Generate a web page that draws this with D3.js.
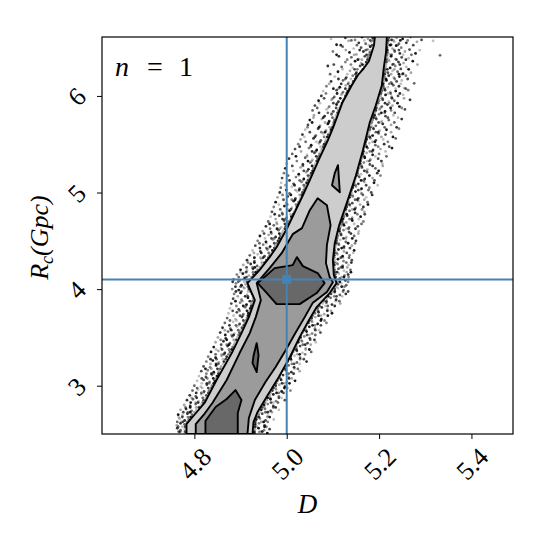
<!DOCTYPE html>
<html>
<head>
<meta charset="utf-8">
<title>D vs R_c corner panel</title>
<style>
  body { margin: 0; background: #fff; }
</style>
</head>
<body>
<svg width="550" height="550"></svg>
<script src="https://cdn.jsdelivr.net/npm/d3@7"></script>
<script>
// axis ranges and ticks
var xDomain = [4.6, 5.49];
var yDomain = [2.5, 6.61];
var xTicks = [4.8, 5.0, 5.2, 5.4];
var yTicks = [3, 4, 5, 6];
var truthD = 5.0, truthR = 4.10;

// contour levels, [D, R] vertices
var outerLevel = [[4.783,2.50],[4.783,2.603],[4.796,2.676],[4.822,2.821],[4.848,3.059],[4.881,3.338],[4.902,3.545],[4.918,3.710],[4.931,3.886],[4.915,4.062],[4.941,4.197],[4.963,4.331],[4.978,4.434],[5.002,4.641],[5.035,4.972],[5.050,5.128],[5.072,5.366],[5.089,5.541],[5.100,5.666],[5.121,5.935],[5.141,6.110],[5.154,6.214],[5.167,6.286],[5.178,6.359],[5.189,6.524],[5.191,6.62],
  [5.217,6.62],[5.215,6.452],[5.210,6.286],[5.206,6.110],[5.193,5.903],[5.180,5.728],[5.165,5.438],[5.150,5.179],[5.130,4.890],[5.113,4.652],[5.104,4.476],[5.100,4.300],[5.102,4.145],[5.108,4.062],[5.093,3.959],[5.065,3.814],[5.048,3.679],[5.028,3.503],[5.007,3.297],[4.983,3.090],[4.959,2.903],[4.937,2.728],[4.928,2.624],[4.926,2.50]];
var midLevel = [[4.803,2.50],[4.803,2.603],[4.820,2.697],[4.839,2.821],[4.870,3.059],[4.898,3.338],[4.920,3.545],[4.933,3.710],[4.944,3.886],[4.935,4.062],[4.963,4.217],[4.989,4.372],[5.013,4.569],[5.033,4.631],[5.050,4.817],[5.067,4.941],
  [5.087,4.869],[5.095,4.662],[5.087,4.455],[5.085,4.269],[5.093,4.124],[5.100,4.072],[5.087,3.969],[5.056,3.855],[5.039,3.710],[5.020,3.555],[4.998,3.369],[4.976,3.193],[4.954,3.038],[4.931,2.852],[4.918,2.666],[4.915,2.50]];
var innerLow = [[4.824,2.50],[4.824,2.634],[4.846,2.779],[4.870,2.862],[4.889,2.955],[4.902,2.852],[4.894,2.717],[4.894,2.50]];
var innerCentre = [[4.937,4.062],[4.974,4.217],[5.000,4.238],[5.013,4.248],[5.022,4.331],[5.035,4.238],[5.067,4.166],[5.082,4.062],[5.065,3.959],[5.028,3.845],[4.978,3.845],[4.957,3.959]];
var islandUpper = [[5.111,5.283],[5.115,5.003],[5.098,5.076],[5.104,5.200]];
var islandLower = [[4.935,3.441],[4.939,3.317],[4.935,3.141],[4.926,3.234],[4.928,3.307]];

// samples outside the outermost level, [D, R]
var samples = [
[5.186,6.60],[5.176,6.59],[5.163,6.61],[5.148,6.58],[5.127,6.60],[5.096,6.59],[5.221,6.60],[5.227,6.58],[5.238,6.60],[5.251,6.59],[5.268,6.61],[5.292,6.58],
[5.183,6.56],[5.171,6.54],[5.156,6.55],[5.134,6.57],[5.108,6.53],[5.219,6.55],[5.226,6.53],[5.233,6.56],[5.243,6.54],[5.259,6.55],[5.282,6.56],
[5.181,6.51],[5.175,6.48],[5.161,6.50],[5.145,6.49],[5.121,6.51],[5.217,6.50],[5.229,6.49],[5.237,6.52],[5.248,6.50],[5.266,6.48],[5.317,6.57],
[5.180,6.45],[5.166,6.46],[5.151,6.43],[5.136,6.45],[5.100,6.46],[5.218,6.45],[5.223,6.43],[5.234,6.46],[5.245,6.44],[5.256,6.46],[5.279,6.44],
[5.176,6.40],[5.169,6.41],[5.157,6.38],[5.140,6.40],[5.113,6.41],[5.217,6.40],[5.226,6.41],[5.236,6.38],[5.249,6.40],[5.264,6.39],[5.332,6.42],
[5.172,6.35],[5.161,6.34],[5.148,6.36],[5.127,6.35],[5.216,6.35],[5.222,6.36],[5.231,6.33],[5.242,6.35],[5.253,6.34],[5.273,6.36],
[5.168,6.30],[5.159,6.31],[5.143,6.29],[5.119,6.30],[5.089,6.31],[5.214,6.30],[5.224,6.29],[5.235,6.31],[5.247,6.28],[5.259,6.30],
[5.161,6.25],[5.151,6.24],[5.137,6.26],[5.111,6.25],[5.213,6.25],[5.219,6.24],[5.229,6.26],[5.240,6.25],[5.252,6.23],[5.269,6.24],
[5.151,6.20],[5.143,6.21],[5.129,6.19],[5.104,6.20],[5.211,6.20],[5.221,6.21],[5.232,6.19],[5.244,6.20],[5.258,6.21],
[5.144,6.15],[5.134,6.14],[5.122,6.16],[5.096,6.15],[5.210,6.15],[5.216,6.16],[5.226,6.14],[5.238,6.15],[5.249,6.16],[5.276,6.13],
[5.137,6.10],[5.128,6.11],[5.115,6.09],[5.086,6.10],[5.209,6.10],[5.219,6.09],[5.231,6.11],[5.243,6.10],[5.255,6.08],
[5.132,6.05],[5.122,6.04],[5.108,6.06],[5.079,6.05],[5.206,6.05],[5.213,6.06],[5.224,6.04],[5.236,6.05],[5.263,6.06],
[5.127,6.00],[5.118,6.01],[5.103,5.99],[5.075,6.00],[5.203,6.00],[5.214,6.01],[5.227,5.99],[5.241,6.00],[5.252,6.01],
[5.122,5.95],[5.112,5.94],[5.097,5.96],[5.069,5.95],[5.200,5.95],[5.208,5.96],[5.221,5.94],[5.233,5.95],[5.267,5.96],
[5.117,5.90],[5.108,5.91],[5.092,5.89],[5.061,5.90],[5.196,5.90],[5.206,5.89],[5.218,5.91],[5.229,5.90],[5.244,5.89],
[5.112,5.85],[5.101,5.84],[5.086,5.86],[5.056,5.85],[5.193,5.85],[5.201,5.86],[5.213,5.84],[5.226,5.85],[5.256,5.86],
[5.107,5.80],[5.097,5.81],[5.082,5.79],[5.059,5.80],[5.190,5.80],[5.200,5.81],[5.214,5.79],[5.231,5.80],
[5.103,5.75],[5.092,5.74],[5.076,5.76],[5.050,5.75],[5.186,5.75],[5.194,5.76],[5.206,5.74],[5.221,5.75],[5.249,5.76],
[5.100,5.70],[5.089,5.71],[5.072,5.69],[5.046,5.70],[5.183,5.70],[5.193,5.69],[5.208,5.71],[5.226,5.70],
[5.096,5.65],[5.085,5.64],[5.068,5.66],[5.040,5.65],[5.180,5.65],[5.188,5.66],[5.201,5.64],[5.216,5.65],[5.243,5.66],
[5.090,5.60],[5.079,5.61],[5.063,5.59],[5.034,5.60],[5.177,5.60],[5.186,5.59],[5.199,5.61],[5.214,5.60],
[5.085,5.55],[5.074,5.54],[5.058,5.56],[5.030,5.55],[5.173,5.55],[5.181,5.56],[5.193,5.54],[5.209,5.55],[5.236,5.56],
[5.081,5.50],[5.070,5.51],[5.053,5.49],[5.025,5.50],[5.170,5.50],[5.179,5.51],[5.192,5.49],[5.211,5.50],
[5.076,5.45],[5.065,5.44],[5.048,5.46],[5.018,5.45],[5.167,5.45],[5.175,5.46],[5.187,5.44],[5.203,5.45],[5.228,5.46],
[5.071,5.40],[5.060,5.41],[5.044,5.39],[5.012,5.40],[5.165,5.40],[5.173,5.41],[5.186,5.39],[5.200,5.40],
[5.067,5.35],[5.056,5.34],[5.040,5.36],[5.005,5.35],[5.162,5.35],[5.169,5.36],[5.181,5.34],[5.198,5.35],
[5.062,5.30],[5.051,5.31],[5.035,5.29],[5.000,5.30],[5.159,5.30],[5.167,5.31],[5.180,5.29],[5.207,5.30],
[5.058,5.25],[5.047,5.24],[5.030,5.26],[4.997,5.25],[5.156,5.25],[5.163,5.26],[5.175,5.24],[5.192,5.25],
[5.053,5.20],[5.042,5.21],[5.026,5.19],[4.994,5.20],[5.153,5.20],[5.161,5.19],[5.174,5.21],[5.196,5.20],
[5.048,5.15],[5.037,5.14],[5.020,5.16],[4.990,5.15],[5.150,5.15],[5.157,5.16],[5.169,5.14],[5.186,5.15],
[5.043,5.10],[5.032,5.11],[5.015,5.09],[4.988,5.10],[5.146,5.10],[5.155,5.09],[5.168,5.11],[5.189,5.10],
[5.039,5.05],[5.028,5.04],[5.011,5.06],[4.987,5.05],[5.143,5.05],[5.150,5.06],[5.162,5.04],[5.179,5.05],
[5.034,5.00],[5.023,5.01],[5.006,4.99],[4.985,5.00],[5.140,5.00],[5.149,5.01],[5.162,4.99],[5.183,5.00],
[5.030,4.95],[5.019,4.94],[5.002,4.96],[4.980,4.95],[5.136,4.95],[5.143,4.96],[5.155,4.94],[5.172,4.95],
[5.026,4.90],[5.015,4.91],[4.999,4.89],[4.976,4.90],[5.133,4.90],[5.142,4.89],[5.155,4.91],[5.175,4.90],
[5.022,4.85],[5.011,4.84],[4.995,4.86],[4.972,4.85],[5.130,4.85],[5.137,4.86],[5.149,4.84],[5.166,4.85],
[5.016,4.80],[5.006,4.81],[4.990,4.79],[4.968,4.80],[5.127,4.80],[5.136,4.81],[5.148,4.79],[5.168,4.80],
[5.010,4.75],[5.000,4.74],[4.984,4.76],[4.965,4.75],[5.124,4.75],[5.131,4.76],[5.142,4.74],[5.160,4.75],
[5.004,4.70],[4.994,4.71],[4.978,4.69],[4.960,4.70],[5.120,4.70],[5.129,4.69],[5.142,4.71],[5.166,4.70],
[4.998,4.65],[4.988,4.64],[4.972,4.66],[4.955,4.65],[5.117,4.65],[5.124,4.66],[5.135,4.64],[5.154,4.65],
[4.992,4.60],[4.982,4.61],[4.966,4.59],[4.948,4.60],[5.114,4.60],[5.123,4.61],[5.135,4.59],[5.156,4.60],
[4.986,4.55],[4.976,4.54],[4.961,4.56],[4.942,4.55],[5.111,4.55],[5.118,4.56],[5.129,4.54],[5.146,4.55],
[4.981,4.50],[4.970,4.51],[4.955,4.49],[4.937,4.50],[5.108,4.50],[5.116,4.51],[5.128,4.49],[5.150,4.50],
[4.975,4.45],[4.964,4.44],[4.949,4.46],[4.932,4.45],[5.106,4.45],[5.113,4.46],[5.124,4.44],[5.141,4.45],
[4.969,4.40],[4.958,4.41],[4.943,4.39],[4.926,4.40],[5.104,4.40],[5.112,4.41],[5.124,4.39],[5.146,4.40],
[4.963,4.35],[4.952,4.34],[4.937,4.36],[4.920,4.35],[5.103,4.35],[5.110,4.36],[5.121,4.34],[5.136,4.35],
[4.956,4.30],[4.945,4.31],[4.930,4.29],[4.914,4.30],[5.103,4.30],[5.111,4.31],[5.123,4.29],[5.141,4.30],
[4.946,4.25],[4.936,4.24],[4.922,4.26],[4.906,4.25],[5.103,4.25],[5.110,4.26],[5.121,4.24],[5.134,4.25],
[4.937,4.20],[4.927,4.21],[4.914,4.19],[4.900,4.20],[5.104,4.20],[5.112,4.21],[5.124,4.19],[5.138,4.20],
[4.928,4.15],[4.918,4.14],[4.905,4.16],[4.892,4.15],[5.105,4.15],[5.113,4.16],[5.125,4.14],[5.133,4.15],
[4.918,4.10],[4.909,4.11],[4.898,4.09],[4.885,4.10],[5.108,4.10],[5.115,4.11],[5.127,4.09],
[4.911,4.05],[4.902,4.04],[4.890,4.06],[5.111,4.05],[5.118,4.06],[5.129,4.04],
[4.918,4.00],[4.908,4.01],[4.896,3.99],[4.882,4.00],[5.104,4.00],[5.111,4.01],[5.123,3.99],
[4.925,3.95],[4.914,3.94],[4.900,3.96],[4.886,3.95],[5.096,3.95],[5.104,3.96],[5.115,3.94],[5.128,3.95],
[4.927,3.90],[4.916,3.91],[4.902,3.89],[4.884,3.90],[5.087,3.90],[5.095,3.91],[5.107,3.89],
[4.924,3.85],[4.913,3.84],[4.899,3.86],[4.880,3.85],[5.078,3.85],[5.086,3.86],[5.098,3.84],[5.116,3.85],
[4.921,3.80],[4.910,3.81],[4.896,3.79],[4.877,3.80],[5.067,3.80],[5.076,3.81],[5.088,3.79],
[4.917,3.75],[4.906,3.74],[4.892,3.76],[4.874,3.75],[5.061,3.75],[5.069,3.76],[5.081,3.74],[5.098,3.75],
[4.914,3.70],[4.903,3.71],[4.889,3.69],[4.871,3.70],[5.054,3.70],[5.062,3.71],[5.075,3.69],
[4.909,3.65],[4.898,3.64],[4.884,3.66],[4.866,3.65],[5.047,3.65],[5.055,3.66],[5.067,3.64],[5.086,3.65],
[4.903,3.60],[4.892,3.61],[4.878,3.59],[4.861,3.60],[5.041,3.60],[5.049,3.61],[5.061,3.59],
[4.898,3.55],[4.887,3.54],[4.873,3.56],[4.856,3.55],[5.035,3.55],[5.043,3.56],[5.055,3.54],[5.073,3.55],
[4.893,3.50],[4.882,3.51],[4.868,3.49],[4.851,3.50],[5.030,3.50],[5.038,3.51],[5.050,3.49],
[4.888,3.45],[4.877,3.44],[4.863,3.46],[4.846,3.45],[5.025,3.45],[5.033,3.46],[5.045,3.44],[5.063,3.45],
[4.883,3.40],[4.872,3.41],[4.858,3.39],[4.842,3.40],[5.021,3.40],[5.029,3.41],[5.041,3.39],
[4.877,3.35],[4.866,3.34],[4.852,3.36],[4.836,3.35],[5.014,3.35],[5.022,3.36],[5.034,3.34],[5.053,3.35],
[4.870,3.30],[4.859,3.31],[4.846,3.29],[4.830,3.30],[5.009,3.30],[5.017,3.31],[5.029,3.29],
[4.864,3.25],[4.853,3.24],[4.840,3.26],[4.826,3.25],[5.002,3.25],[5.010,3.26],[5.022,3.24],[5.043,3.25],
[4.858,3.20],[4.847,3.21],[4.834,3.19],[4.820,3.20],[4.996,3.20],[5.004,3.21],[5.016,3.19],
[4.853,3.15],[4.842,3.14],[4.829,3.16],[4.815,3.15],[4.990,3.15],[4.998,3.16],[5.010,3.14],[5.028,3.15],
[4.849,3.10],[4.838,3.11],[4.825,3.09],[4.810,3.10],[4.984,3.10],[4.992,3.11],[5.004,3.09],
[4.844,3.05],[4.833,3.04],[4.820,3.06],[4.806,3.05],[4.980,3.05],[4.988,3.06],[5.000,3.04],[5.018,3.05],
[4.838,3.00],[4.827,3.01],[4.814,2.99],[4.800,3.00],[4.976,3.00],[4.984,3.01],[4.996,2.99],
[4.832,2.95],[4.821,2.94],[4.808,2.96],[4.796,2.95],[4.969,2.95],[4.977,2.96],[4.989,2.94],[5.008,2.95],
[4.826,2.90],[4.815,2.91],[4.803,2.89],[4.790,2.90],[4.963,2.90],[4.971,2.91],[4.983,2.89],
[4.820,2.85],[4.809,2.84],[4.797,2.86],[4.784,2.85],[4.957,2.85],[4.965,2.86],[4.977,2.84],[4.996,2.85],
[4.814,2.80],[4.803,2.81],[4.791,2.79],[4.778,2.80],[4.951,2.80],[4.959,2.81],[4.971,2.79],
[4.804,2.75],[4.794,2.74],[4.782,2.76],[4.770,2.75],[4.945,2.75],[4.953,2.76],[4.965,2.74],[4.983,2.75],
[4.795,2.70],[4.785,2.71],[4.774,2.69],[4.765,2.70],[4.939,2.70],[4.947,2.71],[4.959,2.69],
[4.788,2.65],[4.779,2.64],[4.768,2.66],[4.934,2.65],[4.942,2.66],[4.954,2.64],[4.972,2.65],
[4.779,2.60],[4.770,2.61],[4.762,2.59],[4.932,2.60],[4.940,2.61],[4.952,2.59],
[4.779,2.55],[4.770,2.54],[4.763,2.56],[4.931,2.55],[4.939,2.56],[4.951,2.54],[4.963,2.55],
[4.779,2.51],[4.768,2.52],[4.930,2.51],[4.940,2.52],[4.958,2.51]
];

// more samples hugging the outermost level, [D, R]
var samplesEdge = [
[5.187,6.575],[5.181,6.575],[5.168,6.575],[5.140,6.575],[5.220,6.575],[5.231,6.575],[5.246,6.575],[5.262,6.575],
[5.185,6.525],[5.178,6.525],[5.152,6.525],[5.117,6.525],[5.219,6.525],[5.224,6.525],[5.240,6.525],[5.274,6.525],
[5.182,6.475],[5.171,6.475],[5.158,6.475],[5.128,6.475],[5.218,6.475],[5.233,6.475],[5.243,6.475],[5.288,6.475],
[5.179,6.425],[5.173,6.425],[5.146,6.425],[5.108,6.425],[5.217,6.425],[5.227,6.425],[5.252,6.425],[5.270,6.425],
[5.175,6.375],[5.163,6.375],[5.154,6.375],[5.131,6.375],[5.216,6.375],[5.221,6.375],[5.238,6.375],[5.258,6.375],
[5.171,6.325],[5.164,6.325],[5.139,6.325],[5.102,6.325],[5.215,6.325],[5.229,6.325],[5.245,6.325],[5.283,6.325],
[5.165,6.275],[5.153,6.275],[5.147,6.275],[5.121,6.275],[5.213,6.275],[5.218,6.275],[5.233,6.275],[5.264,6.275],
[5.157,6.225],[5.149,6.225],[5.131,6.225],[5.094,6.225],[5.212,6.225],[5.226,6.225],[5.243,6.225],[5.250,6.225],
[5.148,6.175],[5.139,6.175],[5.127,6.175],[5.112,6.175],[5.210,6.175],[5.215,6.175],[5.234,6.175],[5.262,6.175],
[5.141,6.125],[5.133,6.125],[5.118,6.125],[5.092,6.125],[5.209,6.125],[5.222,6.125],[5.228,6.125],[5.247,6.125],
[5.135,6.075],[5.127,6.075],[5.112,6.075],[5.101,6.075],[5.207,6.075],[5.212,6.075],[5.236,6.075],[5.258,6.075],
[5.130,6.025],[5.120,6.025],[5.109,6.025],[5.085,6.025],[5.204,6.025],[5.219,6.025],[5.225,6.025],[5.245,6.025],
[5.125,5.975],[5.116,5.975],[5.100,5.975],[5.081,5.975],[5.201,5.975],[5.207,5.975],[5.228,5.975],[5.254,5.975],
[5.120,5.925],[5.109,5.925],[5.101,5.925],[5.072,5.925],[5.198,5.925],[5.213,5.925],[5.222,5.925],[5.240,5.925],
[5.115,5.875],[5.107,5.875],[5.090,5.875],[5.066,5.875],[5.194,5.875],[5.203,5.875],[5.225,5.875],[5.249,5.875],
[5.110,5.825],[5.098,5.825],[5.089,5.825],[5.070,5.825],[5.191,5.825],[5.205,5.825],[5.212,5.825],[5.234,5.825],
[5.106,5.775],[5.099,5.775],[5.079,5.775],[5.058,5.775],[5.188,5.775],[5.193,5.775],[5.219,5.775],[5.241,5.775],
[5.102,5.725],[5.091,5.725],[5.083,5.725],[5.055,5.725],[5.184,5.725],[5.199,5.725],[5.205,5.725],[5.233,5.725],
[5.099,5.675],[5.093,5.675],[5.070,5.675],[5.045,5.675],[5.181,5.675],[5.186,5.675],[5.212,5.675],[5.238,5.675],
[5.094,5.625],[5.083,5.625],[5.075,5.625],[5.050,5.625],[5.178,5.625],[5.193,5.625],[5.198,5.625],[5.226,5.625],
[5.088,5.575],[5.081,5.575],[5.061,5.575],[5.038,5.575],[5.175,5.575],[5.180,5.575],[5.205,5.575],[5.230,5.575],
[5.084,5.525],[5.072,5.525],[5.064,5.525],[5.041,5.525],[5.171,5.525],[5.186,5.525],[5.191,5.525],[5.219,5.525],
[5.079,5.475],[5.073,5.475],[5.052,5.475],[5.028,5.475],[5.168,5.475],[5.173,5.475],[5.198,5.475],[5.222,5.475],
[5.074,5.425],[5.063,5.425],[5.055,5.425],[5.031,5.425],[5.166,5.425],[5.180,5.425],[5.185,5.425],[5.214,5.425],
[5.070,5.375],[5.064,5.375],[5.044,5.375],[5.020,5.375],[5.163,5.375],[5.168,5.375],[5.192,5.375],[5.216,5.375],
[5.065,5.325],[5.054,5.325],[5.046,5.325],[5.022,5.325],[5.160,5.325],[5.174,5.325],[5.179,5.325],[5.205,5.325],
[5.061,5.275],[5.055,5.275],[5.035,5.275],[5.012,5.275],[5.157,5.275],[5.162,5.275],[5.186,5.275],[5.208,5.275],
[5.056,5.225],[5.045,5.225],[5.037,5.225],[5.014,5.225],[5.154,5.225],[5.168,5.225],[5.173,5.225],[5.199,5.225],
[5.051,5.175],[5.046,5.175],[5.026,5.175],[5.003,5.175],[5.151,5.175],[5.156,5.175],[5.179,5.175],[5.203,5.175],
[5.046,5.125],[5.035,5.125],[5.028,5.125],[5.006,5.125],[5.148,5.125],[5.161,5.125],[5.166,5.125],[5.190,5.125],
[5.042,5.075],[5.037,5.075],[5.017,5.075],[4.997,5.075],[5.144,5.075],[5.149,5.075],[5.172,5.075],[5.197,5.075],
[5.037,5.025],[5.027,5.025],[5.019,5.025],[4.999,5.025],[5.141,5.025],[5.155,5.025],[5.160,5.025],[5.177,5.025],
[5.033,4.975],[5.028,4.975],[5.009,4.975],[4.991,4.975],[5.138,4.975],[5.143,4.975],[5.165,4.975],[5.185,4.975],
[5.029,4.925],[5.018,4.925],[5.011,4.925],[4.993,4.925],[5.134,4.925],[5.148,4.925],[5.153,4.925],[5.168,4.925],
[5.025,4.875],[5.020,4.875],[5.001,4.875],[4.983,4.875],[5.131,4.875],[5.136,4.875],[5.159,4.875],[5.176,4.875],
[5.020,4.825],[5.009,4.825],[5.003,4.825],[4.986,4.825],[5.128,4.825],[5.142,4.825],[5.147,4.825],[5.163,4.825],
[5.014,4.775],[5.008,4.775],[4.991,4.775],[4.974,4.775],[5.125,4.775],[5.130,4.775],[5.153,4.775],[5.169,4.775],
[5.008,4.725],[4.997,4.725],[4.991,4.725],[4.976,4.725],[5.122,4.725],[5.136,4.725],[5.141,4.725],[5.156,4.725],
[5.002,4.675],[4.996,4.675],[4.979,4.675],[4.963,4.675],[5.118,4.675],[5.123,4.675],[5.146,4.675],[5.162,4.675],
[4.996,4.625],[4.985,4.625],[4.979,4.625],[4.964,4.625],[5.115,4.625],[5.129,4.625],[5.134,4.625],[5.149,4.625],
[4.990,4.575],[4.984,4.575],[4.967,4.575],[4.951,4.575],[5.112,4.575],[5.117,4.575],[5.139,4.575],[5.155,4.575],
[4.984,4.525],[4.973,4.525],[4.967,4.525],[4.953,4.525],[5.109,4.525],[5.123,4.525],[5.128,4.525],[5.142,4.525],
[4.979,4.475],[4.973,4.475],[4.956,4.475],[4.941,4.475],[5.107,4.475],[5.112,4.475],[5.133,4.475],[5.148,4.475],
[4.973,4.425],[4.962,4.425],[4.956,4.425],[4.942,4.425],[5.105,4.425],[5.119,4.425],[5.124,4.425],[5.137,4.425],
[4.967,4.375],[4.961,4.375],[4.945,4.375],[4.929,4.375],[5.103,4.375],[5.108,4.375],[5.130,4.375],[5.144,4.375],
[4.960,4.325],[4.949,4.325],[4.943,4.325],[4.930,4.325],[5.103,4.325],[5.117,4.325],[5.122,4.325],[5.135,4.325],
[4.952,4.275],[4.946,4.275],[4.930,4.275],[4.916,4.275],[5.103,4.275],[5.108,4.275],[5.129,4.275],[5.140,4.275],
[4.942,4.225],[4.931,4.225],[4.926,4.225],[4.913,4.225],[5.103,4.225],[5.117,4.225],[5.121,4.225],[5.131,4.225],
[4.933,4.175],[4.927,4.175],[4.912,4.175],[4.900,4.175],[5.104,4.175],[5.109,4.175],[5.130,4.175],[5.139,4.175],
[4.924,4.125],[4.913,4.125],[4.908,4.125],[4.896,4.125],[5.106,4.125],[5.119,4.125],[5.124,4.125],[5.134,4.125],
[4.914,4.075],[4.908,4.075],[4.895,4.075],[4.883,4.075],[5.110,4.075],[5.115,4.075],[5.133,4.075],
[4.916,4.025],[4.905,4.025],[4.900,4.025],[4.889,4.025],[5.107,4.025],[5.119,4.025],[5.125,4.025],
[4.922,3.975],[4.916,3.975],[4.902,3.975],[4.890,3.975],[5.099,3.975],[5.104,3.975],[5.122,3.975],[5.133,3.975],
[4.927,3.925],[4.916,3.925],[4.910,3.925],[4.894,3.925],[5.090,3.925],[5.103,3.925],[5.108,3.925],[5.120,3.925],
[4.926,3.875],[4.920,3.875],[4.904,3.875],[4.889,3.875],[5.081,3.875],[5.086,3.875],[5.106,3.875],[5.114,3.875],
[4.923,3.825],[4.912,3.825],[4.906,3.825],[4.891,3.825],[5.071,3.825],[5.084,3.825],[5.089,3.825],[5.104,3.825],
[4.920,3.775],[4.914,3.775],[4.898,3.775],[4.883,3.775],[5.063,3.775],[5.068,3.775],[5.088,3.775],[5.096,3.775],
[4.916,3.725],[4.905,3.725],[4.899,3.725],[4.885,3.725],[5.056,3.725],[5.069,3.725],[5.074,3.725],[5.089,3.725],
[4.912,3.675],[4.906,3.675],[4.891,3.675],[4.877,3.675],[5.049,3.675],[5.054,3.675],[5.074,3.675],[5.082,3.675],
[4.907,3.625],[4.896,3.625],[4.890,3.625],[4.876,3.625],[5.043,3.625],[5.056,3.625],[5.061,3.625],[5.074,3.625],
[4.901,3.575],[4.895,3.575],[4.880,3.575],[4.866,3.575],[5.037,3.575],[5.042,3.575],[5.062,3.575],[5.070,3.575],
[4.896,3.525],[4.885,3.525],[4.880,3.525],[4.867,3.525],[5.031,3.525],[5.044,3.525],[5.049,3.525],[5.062,3.525],
[4.891,3.475],[4.885,3.475],[4.870,3.475],[4.857,3.475],[5.026,3.475],[5.031,3.475],[5.051,3.475],[5.060,3.475],
[4.886,3.425],[4.875,3.425],[4.870,3.425],[4.858,3.425],[5.022,3.425],[5.035,3.425],[5.040,3.425],[5.052,3.425],
[4.881,3.375],[4.875,3.375],[4.860,3.375],[4.847,3.375],[5.016,3.375],[5.021,3.375],[5.041,3.375],[5.049,3.375],
[4.874,3.325],[4.864,3.325],[4.859,3.325],[4.846,3.325],[5.010,3.325],[5.023,3.325],[5.028,3.325],[5.040,3.325],
[4.868,3.275],[4.862,3.275],[4.848,3.275],[4.835,3.275],[5.004,3.275],[5.009,3.275],[5.029,3.275],[5.037,3.275],
[4.862,3.225],[4.852,3.225],[4.847,3.225],[4.835,3.225],[4.998,3.225],[5.011,3.225],[5.016,3.225],[5.028,3.225],
[4.856,3.175],[4.850,3.175],[4.837,3.175],[4.824,3.175],[4.992,3.175],[4.997,3.175],[5.017,3.175],[5.024,3.175],
[4.852,3.125],[4.842,3.125],[4.837,3.125],[4.826,3.125],[4.986,3.125],[4.999,3.125],[5.004,3.125],[5.015,3.125],
[4.847,3.075],[4.841,3.075],[4.828,3.075],[4.816,3.075],[4.981,3.075],[4.986,3.075],[5.005,3.075],[5.011,3.075],
[4.842,3.025],[4.832,3.025],[4.827,3.025],[4.816,3.025],[4.977,3.025],[4.990,3.025],[4.995,3.025],[5.006,3.025],
[4.836,2.975],[4.830,2.975],[4.817,2.975],[4.806,2.975],[4.971,2.975],[4.976,2.975],[4.995,2.975],[5.001,2.975],
[4.830,2.925],[4.820,2.925],[4.815,2.925],[4.804,2.925],[4.965,2.925],[4.978,2.925],[4.983,2.925],[4.993,2.925],
[4.824,2.875],[4.818,2.875],[4.805,2.875],[4.794,2.875],[4.959,2.875],[4.964,2.875],[4.983,2.875],[4.989,2.875],
[4.818,2.825],[4.808,2.825],[4.803,2.825],[4.792,2.825],[4.953,2.825],[4.966,2.825],[4.971,2.825],[4.981,2.825],
[4.810,2.775],[4.804,2.775],[4.791,2.775],[4.781,2.775],[4.947,2.775],[4.952,2.775],[4.971,2.775],[4.976,2.775],
[4.800,2.725],[4.791,2.725],[4.786,2.725],[4.776,2.725],[4.941,2.725],[4.954,2.725],[4.959,2.725],[4.968,2.725],
[4.792,2.675],[4.786,2.675],[4.774,2.675],[4.766,2.675],[4.936,2.675],[4.940,2.675],[4.958,2.675],[4.963,2.675],
[4.784,2.625],[4.775,2.625],[4.771,2.625],[4.763,2.625],[4.932,2.625],[4.945,2.625],[4.950,2.625],[4.959,2.625],
[4.780,2.575],[4.774,2.575],[4.765,2.575],[4.931,2.575],[4.935,2.575],[4.952,2.575],[4.956,2.575],
[4.780,2.525],[4.771,2.525],[4.766,2.525],[4.930,2.525],[4.943,2.525],[4.947,2.525]
];

var svg = d3.select("svg"),
  plotLeft = 102, plotRight = 513, plotTop = 37, plotBottom = 434;

var x = d3.scaleLinear().domain(xDomain).range([plotLeft, plotRight]);
var y = d3.scaleLinear().domain(yDomain).range([plotBottom, plotTop]);

svg.append("defs").append("clipPath").attr("id", "plotclip")
  .append("rect").attr("x", plotLeft).attr("y", plotTop)
  .attr("width", plotRight - plotLeft).attr("height", plotBottom - plotTop);

var g = svg.append("g").attr("clip-path", "url(#plotclip)");

// scattered samples
var alphas = [0.8, 0.35, 0.9, 0.5, 0.7, 0.25, 0.6];
g.append("g").selectAll("circle")
  .data(samples.concat(samplesEdge))
  .enter().append("circle")
  .attr("cx", function (d) { return x(d[0]); })
  .attr("cy", function (d) { return y(d[1]); })
  .attr("r", 1.4)
  .attr("fill", "#000")
  .attr("fill-opacity", function (d, i) { return alphas[i % alphas.length]; });

// filled contours
var line = d3.line()
  .x(function (d) { return x(d[0]); })
  .y(function (d) { return y(d[1]); });

var levels = [
  { pts: outerLevel, fill: "#cdcdcd" },
  { pts: midLevel, fill: "#9b9b9b" },
  { pts: islandUpper, fill: "#9b9b9b" },
  { pts: innerLow, fill: "#686868" },
  { pts: innerCentre, fill: "#686868" },
  { pts: islandLower, fill: "#686868" }
];

g.selectAll("path.level")
  .data(levels)
  .enter().append("path")
  .attr("class", "level")
  .attr("d", function (d) { return line(d.pts) + "Z"; })
  .attr("fill", function (d) { return d.fill; })
  .attr("stroke", "#000")
  .attr("stroke-width", 1.9)
  .attr("stroke-linejoin", "round");

// truth lines
g.append("line")
  .attr("x1", x(truthD)).attr("x2", x(truthD))
  .attr("y1", plotTop).attr("y2", plotBottom)
  .attr("stroke", "#4682b4").attr("stroke-width", 2);
g.append("line")
  .attr("x1", plotLeft).attr("x2", plotRight)
  .attr("y1", y(truthR)).attr("y2", y(truthR))
  .attr("stroke", "#4682b4").attr("stroke-width", 2);
g.append("rect")
  .attr("x", x(truthD) - 4.5).attr("y", y(truthR) - 4.5)
  .attr("width", 9).attr("height", 9)
  .attr("fill", "#4682b4");

// frame
svg.append("rect")
  .attr("x", plotLeft).attr("y", plotTop)
  .attr("width", plotRight - plotLeft).attr("height", plotBottom - plotTop)
  .attr("fill", "none").attr("stroke", "#000").attr("stroke-width", 1.2);

// ticks
var xAxis = svg.append("g")
  .attr("transform", "translate(0," + plotBottom + ")")
  .call(d3.axisBottom(x).tickValues(xTicks).tickSize(5).tickFormat(""));
var yAxis = svg.append("g")
  .attr("transform", "translate(" + plotLeft + ",0)")
  .call(d3.axisLeft(y).tickValues(yTicks).tickSize(5).tickFormat(""));
xAxis.select(".domain").remove();
yAxis.select(".domain").remove();
svg.selectAll(".tick line").attr("stroke", "#000").attr("stroke-width", 1);

var serif = "Liberation Serif";

// tick labels, rotated like the original
svg.append("g").selectAll("text")
  .data(xTicks)
  .enter().append("text")
  .attr("transform", function (d) { return "translate(" + (x(d) + 1) + ",464) rotate(-45)"; })
  .attr("text-anchor", "middle")
  .attr("dy", "0.33em")
  .style("font-family", serif)
  .style("font-size", "26px")
  .text(function (d) { return d.toFixed(1); });

svg.append("g").selectAll("text")
  .data(yTicks)
  .enter().append("text")
  .attr("transform", function (d) { return "translate(77," + (y(d) + 1) + ") rotate(-45)"; })
  .attr("text-anchor", "middle")
  .attr("dy", "0.33em")
  .style("font-family", serif)
  .style("font-size", "26px")
  .text(function (d) { return d; });

// axis labels
svg.append("text")
  .attr("x", (plotLeft + plotRight) / 2)
  .attr("y", 513)
  .attr("text-anchor", "middle")
  .style("font-family", serif)
  .style("font-size", "27px")
  .style("font-style", "italic")
  .text("D");

var ylab = svg.append("text")
  .attr("transform", "translate(48," + ((plotTop + plotBottom) / 2 + 2) + ") rotate(-90)")
  .attr("text-anchor", "middle")
  .style("font-family", serif)
  .style("font-size", "26px")
  .style("font-style", "italic");
ylab.append("tspan").text("R");
ylab.append("tspan").style("font-size", "18px").attr("dy", 5).text("c");
ylab.append("tspan").attr("dy", -5).text("(Gpc)");

// annotation n = 1
var ann = svg.append("g").style("font-family", serif).style("font-size", "28px");
ann.append("text").attr("x", 115).attr("y", 76).style("font-style", "italic").text("n");
ann.append("text").attr("x", 155).attr("y", 76).attr("text-anchor", "middle").text("=");
ann.append("text").attr("x", 186).attr("y", 76).attr("text-anchor", "middle").text("1");
</script>
</body>
</html>
